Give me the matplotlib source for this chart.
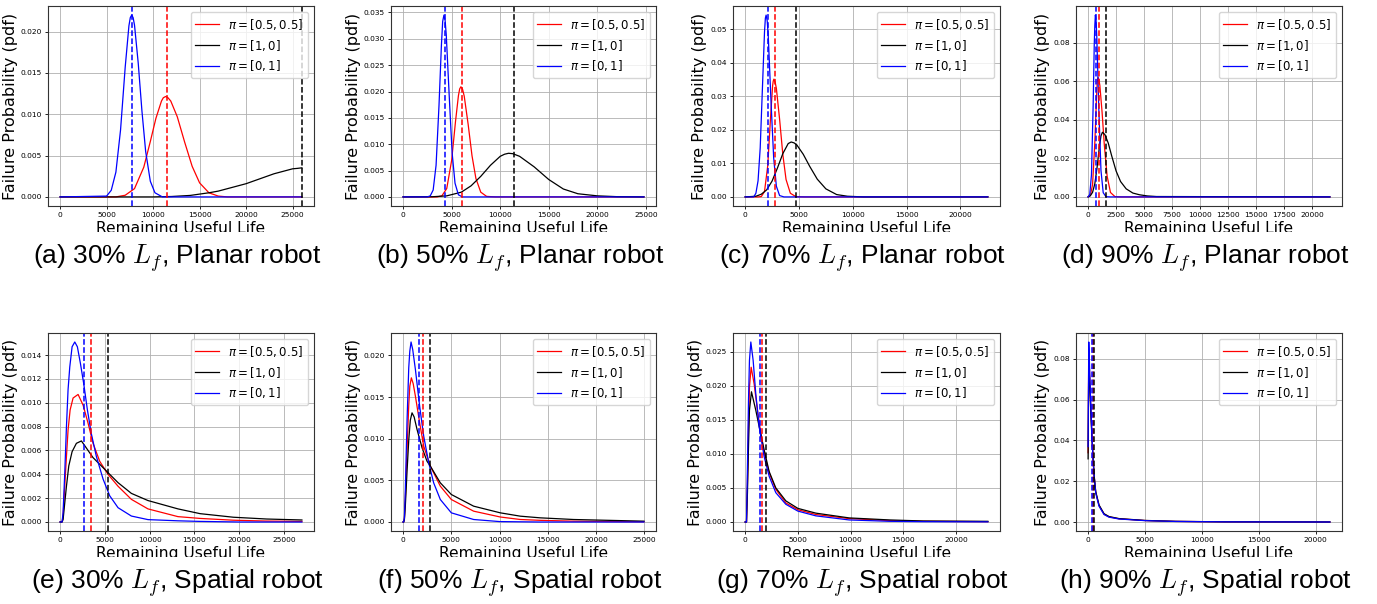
import numpy as np
import matplotlib.pyplot as plt
from matplotlib.ticker import MultipleLocator
from matplotlib.transforms import Bbox, TransformedBbox

# values (x = remaining useful life, y = pdf)
labels = [r'$\pi = [0.5, 0.5]$', r'$\pi = [1, 0]$', r'$\pi = [0, 1]$']
colors = ['red', 'black', 'blue']

# (a) 30% Lf, planar
a_red_x = [0, 6000, 7000, 8000, 9000, 9700, 10300, 10900, 11100, 11350, 11600, 11900, 12600, 13400, 14200, 15000, 16000, 17000, 18000, 26000]
a_red_y = [0, 0, 0.0002, 0.0010, 0.0036, 0.0067, 0.0095, 0.0116, 0.0120, 0.01215, 0.0120, 0.0116, 0.0097, 0.0066, 0.0037, 0.0017, 0.0005, 0.0001, 0, 0]
a_black_x = [0, 10000, 12000, 14000, 16000, 17000, 18000, 19000, 20000, 21000, 22000, 23000, 24000, 24500, 25000, 25500, 26000]
a_black_y = [0, 0, 0.00005, 0.00018, 0.0005, 0.0007, 0.0010, 0.0013, 0.0016, 0.0020, 0.0024, 0.0028, 0.0031, 0.00325, 0.0034, 0.00345, 0.00352]
a_blue_x = [0, 5000, 5500, 6000, 6500, 7000, 7400, 7550, 7700, 7850, 8000, 8400, 8800, 9200, 9700, 10200, 11000, 26000]
a_blue_y = [0, 0.0001, 0.0008, 0.0030, 0.0081, 0.0157, 0.0207, 0.0217, 0.0220, 0.0217, 0.0208, 0.0162, 0.0104, 0.0055, 0.0019, 0.0005, 0, 0]
a_vlines = [11460, 26000, 7770]

# (b) 50% Lf, planar
b_red_x = [0, 3500, 4000, 4500, 5000, 5400, 5700, 5830, 5960, 6130, 6300, 6700, 7100, 7500, 8000, 8600, 9500, 24800]
b_red_y = [0, 0, 0.0002, 0.0016, 0.0069, 0.0143, 0.0192, 0.0205, 0.0209, 0.0204, 0.0191, 0.0138, 0.0078, 0.0035, 0.0009, 0.0001, 0, 0]
b_black_x = [0, 3000, 4500, 6000, 7000, 8000, 9000, 10000, 10450, 10860, 11300, 12000, 13500, 15000, 16500, 18000, 20000, 22000, 24800]
b_black_y = [0, 0.00003, 0.0002, 0.0009, 0.0021, 0.0039, 0.0060, 0.0077, 0.0081, 0.00828, 0.0082, 0.0077, 0.0057, 0.0033, 0.0015, 0.0006, 0.0002, 0.00005, 0]
b_blue_x = [0, 2500, 2800, 3100, 3400, 3700, 3950, 4080, 4210, 4330, 4450, 4750, 5050, 5350, 5700, 6100, 24800]
b_blue_y = [0, 0, 0.0002, 0.0013, 0.0060, 0.0173, 0.0288, 0.0333, 0.0345, 0.0335, 0.0307, 0.0193, 0.0084, 0.0026, 0.0004, 0, 0]
b_vlines = [6100, 11440, 4320]

# (c) 70% Lf, planar
c_red_x = [0, 1200, 1500, 1800, 2100, 2350, 2550, 2610, 2670, 2780, 2900, 3200, 3500, 3800, 4200, 4700, 5500, 22550]
c_red_y = [0, 0, 0.0001, 0.0016, 0.0093, 0.0231, 0.0331, 0.0345, 0.0351, 0.0343, 0.0324, 0.0232, 0.0127, 0.0052, 0.0011, 0.0001, 0, 0]
c_black_x = [0, 1000, 1500, 2000, 2500, 3000, 3500, 4000, 4280, 4550, 4800, 5400, 6000, 6700, 7500, 8500, 9500, 11000, 22550]
c_black_y = [0, 0.0002, 0.0008, 0.0021, 0.0047, 0.0086, 0.0129, 0.0159, 0.01637, 0.0161, 0.0155, 0.0127, 0.0091, 0.0053, 0.0024, 0.0007, 0.0002, 0, 0]
c_blue_x = [0, 800, 1000, 1200, 1400, 1600, 1800, 1880, 1950, 2050, 2150, 2400, 2650, 2900, 3200, 3600, 22550]
c_blue_y = [0, 0, 0.0011, 0.0048, 0.0146, 0.0319, 0.0492, 0.0533, 0.0542, 0.0525, 0.0478, 0.0287, 0.0117, 0.0032, 0.0004, 0, 0]
c_vlines = [2790, 4680, 2080]

# (d) 90% Lf, planar
d_red_x = [0, 200, 400, 600, 750, 820, 890, 960, 1050, 1250, 1450, 1700, 2000, 2400, 3000, 21600]
d_red_y = [0, 0.0007, 0.0064, 0.028, 0.0515, 0.060, 0.062, 0.0612, 0.058, 0.044, 0.027, 0.0108, 0.0023, 0.00015, 0, 0]
d_black_x = [0, 200, 400, 600, 800, 1000, 1150, 1280, 1500, 1800, 2100, 2500, 2900, 3400, 4000, 4600, 5300, 6100, 21600]
d_black_y = [0, 0.0006, 0.0024, 0.0068, 0.0152, 0.0256, 0.0317, 0.0336, 0.0324, 0.0280, 0.0215, 0.0135, 0.0080, 0.0042, 0.0020, 0.0011, 0.0005, 0.0002, 0]
d_blue_x = [0, 150, 300, 450, 550, 600, 650, 710, 780, 950, 1150, 1350, 1600, 2000, 21600]
d_blue_y = [0, 0.0013, 0.0114, 0.047, 0.079, 0.089, 0.0945, 0.092, 0.083, 0.047, 0.0138, 0.0022, 0.0001, 0, 0]
d_vlines = [980, 1575, 740]

# (e) 30% Lf, spatial
e_red_x = [0, 220, 335, 520, 710, 890, 1120, 1450, 2010, 2570, 3120, 3680, 4420, 5350, 6470, 7960, 9810, 13160, 15630, 19350, 23000, 27000]
e_red_y = [0, 0, 0.0005, 0.0030, 0.0055, 0.0077, 0.0094, 0.0104, 0.0107, 0.0098, 0.0083, 0.0066, 0.0051, 0.0040, 0.0030, 0.0019, 0.0011, 0.00045, 0.0003, 0.00015, 0.00008, 0.00005]
e_black_x = [0, 220, 335, 520, 710, 970, 1340, 1820, 2380, 2940, 3680, 4610, 5540, 6470, 7960, 9810, 13160, 15630, 19350, 23070, 27000]
e_black_y = [0, 0, 0.0002, 0.0016, 0.0030, 0.0047, 0.0059, 0.0066, 0.0068, 0.0062, 0.0054, 0.0047, 0.0040, 0.0033, 0.0024, 0.0018, 0.0011, 0.0007, 0.0004, 0.00025, 0.00017]
e_blue_x = [0, 220, 335, 520, 710, 890, 1080, 1340, 1640, 1930, 2270, 2640, 3050, 3490, 4050, 4800, 5540, 6470, 7960, 9810, 13160, 15630, 20000, 27000]
e_blue_y = [0, 0, 0.0008, 0.0041, 0.0080, 0.0111, 0.0130, 0.0147, 0.0151, 0.0147, 0.0133, 0.0116, 0.0094, 0.0074, 0.0055, 0.0036, 0.0022, 0.0012, 0.0005, 0.0002, 0.0001, 0.00005, 0, 0]
e_vlines = [3490, 5350, 2640]

# (f) 50% Lf, spatial
f_red_x = [0, 70, 140, 240, 410, 590, 700, 860, 1050, 1280, 1720, 2140, 2830, 3860, 5000, 7310, 10070, 12140, 14200, 17660, 24950]
f_red_y = [0, 0, 0.0004, 0.0028, 0.0085, 0.0140, 0.0163, 0.0173, 0.0166, 0.0151, 0.0119, 0.0091, 0.0067, 0.0043, 0.0027, 0.0013, 0.0006, 0.0003, 0.0002, 0.0001, 0.00003]
f_black_x = [0, 70, 140, 240, 410, 590, 750, 930, 1150, 1450, 1970, 2480, 2830, 3860, 5000, 7310, 10070, 12140, 14200, 17660, 24950]
f_black_y = [0, 0, 0.0003, 0.0020, 0.0060, 0.0098, 0.0122, 0.0131, 0.0126, 0.0111, 0.0089, 0.0073, 0.0067, 0.0047, 0.0033, 0.0019, 0.0011, 0.0007, 0.0005, 0.0003, 0.0001]
f_blue_x = [0, 70, 140, 240, 410, 590, 700, 830, 1000, 1280, 1720, 2140, 2660, 3170, 3860, 5000, 7310, 10000, 14000, 24950]
f_blue_y = [0, 0, 0.0005, 0.0040, 0.0120, 0.0185, 0.0205, 0.0216, 0.0207, 0.0183, 0.0139, 0.0103, 0.0071, 0.0047, 0.0027, 0.0011, 0.0003, 0.00005, 0, 0]
f_vlines = [2070, 2760, 1690]

# (g) 70% Lf, spatial
g_red_x = [0, 130, 220, 320, 410, 570, 850, 1170, 1490, 1800, 2280, 2910, 3860, 5000, 6710, 9870, 13750, 16900, 23030]
g_red_y = [0, 0, 0.0057, 0.0140, 0.0198, 0.0227, 0.0203, 0.0164, 0.0130, 0.0101, 0.0072, 0.0048, 0.0028, 0.0018, 0.0011, 0.0005, 0.0002, 0.0001, 0.00005]
g_black_x = [0, 130, 220, 320, 410, 600, 1010, 1330, 1800, 2280, 2910, 3860, 5000, 6710, 9870, 13750, 16900, 23030]
g_black_y = [0, 0, 0.0043, 0.0111, 0.0164, 0.0191, 0.0164, 0.0140, 0.0106, 0.0074, 0.0050, 0.0031, 0.0020, 0.0013, 0.0006, 0.0003, 0.00015, 0.0001]
g_blue_x = [0, 130, 220, 320, 410, 540, 760, 1010, 1330, 1800, 2280, 2910, 3860, 5000, 6710, 9870, 13750, 16900, 23030]
g_blue_y = [0, 0, 0.0082, 0.0179, 0.0237, 0.0264, 0.0237, 0.0188, 0.0140, 0.0096, 0.0067, 0.0043, 0.0026, 0.0016, 0.0009, 0.0003, 0.0001, 0.00005, 0.00002]
g_vlines = [1560, 1970, 1370]

# (h) 90% Lf, spatial
h_x = [0, 60, 150, 250, 350, 450, 530, 670, 960, 1400, 1840, 2720, 5000, 7690, 12000, 21250]
h_red_y = [0.034, 0.084, 0.070, 0.054, 0.0405, 0.030, 0.0227, 0.0146, 0.0081, 0.0039, 0.00255, 0.0016, 0.00075, 0.00032, 0.00011, 0.00004]
h_black_y = [0.031, 0.080, 0.067, 0.052, 0.040, 0.030, 0.0230, 0.0150, 0.0084, 0.0041, 0.0027, 0.0017, 0.0008, 0.00035, 0.00012, 0.00004]
h_blue_y = [0.037, 0.0883, 0.072, 0.055, 0.041, 0.030, 0.0224, 0.0143, 0.0078, 0.0037, 0.0024, 0.0015, 0.0007, 0.0003, 0.0001, 0.00003]
h_vlines = [440, 500, 350]

W, H = 1377, 604
fig = plt.figure(figsize=(W / 100, H / 100), dpi=100)

# pixel boxes of the axes, caption centres and the crop line under each x label
col_l = [48, 391, 733, 1076]
col_r = [314, 656, 1000, 1342]
cap_x = [177, 520, 862, 1205]
rows = [dict(top=6, bottom=206, cap_y=258, clip=232, robot='Planar'),
        dict(top=333, bottom=531, cap_y=583, clip=557, robot='Spatial')]
pcts = [30, 50, 70, 90]

panels = [
    ('a', [(a_red_x, a_red_y), (a_black_x, a_black_y), (a_blue_x, a_blue_y)], a_vlines, 5000, 25000, 0.005),
    ('b', [(b_red_x, b_red_y), (b_black_x, b_black_y), (b_blue_x, b_blue_y)], b_vlines, 5000, 25000, 0.005),
    ('c', [(c_red_x, c_red_y), (c_black_x, c_black_y), (c_blue_x, c_blue_y)], c_vlines, 5000, 20000, 0.01),
    ('d', [(d_red_x, d_red_y), (d_black_x, d_black_y), (d_blue_x, d_blue_y)], d_vlines, 2500, 20000, 0.02),
    ('e', [(e_red_x, e_red_y), (e_black_x, e_black_y), (e_blue_x, e_blue_y)], e_vlines, 5000, 25000, 0.002),
    ('f', [(f_red_x, f_red_y), (f_black_x, f_black_y), (f_blue_x, f_blue_y)], f_vlines, 5000, 25000, 0.005),
    ('g', [(g_red_x, g_red_y), (g_black_x, g_black_y), (g_blue_x, g_blue_y)], g_vlines, 5000, 20000, 0.005),
    ('h', [(h_x, h_red_y), (h_x, h_black_y), (h_x, h_blue_y)], h_vlines, 5000, 20000, 0.02),
]

for i, (letter, curves, vlines, xstep, xtop, ystep) in enumerate(panels):
    row = rows[i // 4]
    col = i % 4
    l, r = col_l[col], col_r[col]
    t, b = row['top'], row['bottom']
    ax = fig.add_axes([l / W, 1 - b / H, (r - l) / W, (b - t) / H])

    for (xs, ys), c, lab in zip(curves, colors, labels):
        ax.plot(xs, ys, color=c, lw=0.9, label=lab)
    for v, c in zip(vlines, colors):
        ax.axvline(v, color=c, ls='--', lw=1.1)

    ax.set_xticks(np.arange(0, xtop + 1, xstep))
    ax.yaxis.set_major_locator(MultipleLocator(ystep))
    ax.tick_params(labelsize=5.4, length=2.5, width=0.6, pad=2)
    ax.grid(True, color='#b0b0b0', lw=0.6)
    for s in ax.spines.values():
        s.set_linewidth(0.8)
        s.set_edgecolor('#333333')
    ax.set_xlabel('Remaining Useful Life', fontsize=11.2, labelpad=2)
    ax.set_ylabel('Failure Probability (pdf)', fontsize=11.5, labelpad=2)
    ax.legend(loc='upper right', fontsize=8.5)

    # the sub-figures were cropped just under the x label
    clip = TransformedBbox(Bbox([[0, 1 - row['clip'] / H], [1, 1]]), fig.transFigure)
    ax.xaxis.label.set_clip_box(clip)
    ax.xaxis.label.set_clip_on(True)

    caption = f"({letter}) {pcts[col]}% $L_f$, {row['robot']} robot"
    fig.text(cap_x[col] / W, 1 - row['cap_y'] / H, caption, ha='center', va='center',
             fontsize=19, family='Liberation Sans', math_fontfamily='cm')

fig.savefig('out.png', dpi=100)
